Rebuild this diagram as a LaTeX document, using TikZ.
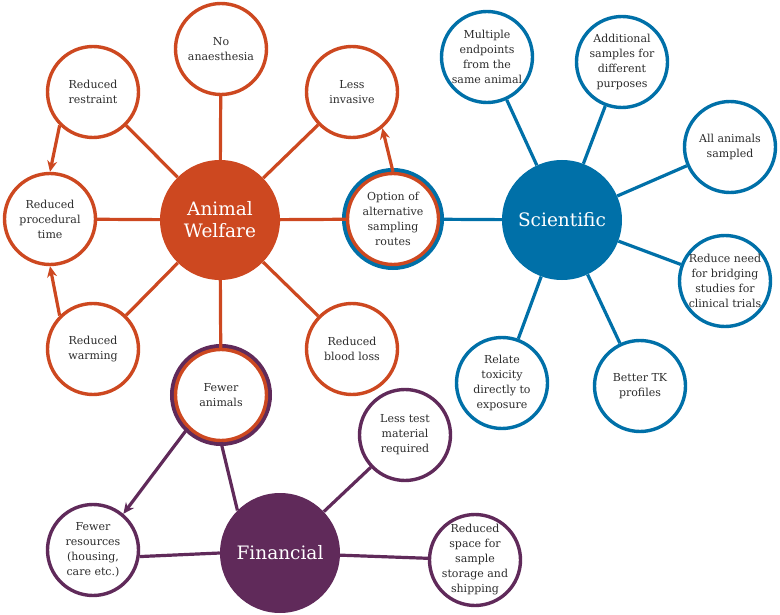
\documentclass[tikz,border=0pt]{standalone}
\usepackage{fontspec}
\setmainfont{DejaVu Serif}
\usetikzlibrary{arrows.meta}
\definecolor{welorange}{RGB}{205,72,32}
\definecolor{sciblue}{RGB}{0,112,168}
\definecolor{finpurple}{RGB}{96,42,90}
\definecolor{txtgrey}{RGB}{45,45,45}

\begin{document}
\begin{tikzpicture}[
  x=1pt, y=-1pt,
  hub/.style={circle, minimum size=120pt, inner sep=0pt, text=white, align=center, font=\fontsize{18.5}{22}\selectfont},
  leaf/.style={circle, draw=#1, line width=3.4pt, fill=white, minimum size=91pt, inner sep=0pt},
  ring/.style={preaction={draw=#1, line width=11pt}},
  txt/.style={align=center, text=txtgrey, font=\fontsize{11}{15}\selectfont},
  link/.style={line width=3.2pt},
  arr/.style={-{Stealth[length=11pt,width=10pt]}, line width=3.2pt}
]
  \useasboundingbox (0,0) rectangle (780,615);

  % hubs
  \node[hub, fill=welorange] (aw) at (220,220) {Animal\\Welfare};
  \node[hub, fill=sciblue] (sci) at (562,220) {Scientific};
  \node[hub, fill=finpurple] (fin) at (280,553) {Financial};

  % animal welfare
  \node[leaf=welorange, label={[txt]center:No\\anaesthesia}] (na) at (221,49) {};
  \node[leaf=welorange, label={[txt]center:Reduced\\restraint}] (rr) at (93,92) {};
  \node[leaf=welorange, label={[txt]center:Less\\invasive}] (li) at (352,92) {};
  \node[leaf=welorange, label={[txt]center:Reduced\\procedural\\time}] (pt) at (50,219) {};
  \node[leaf=welorange, label={[txt]center:Reduced\\warming}] (rw) at (93,349) {};
  \node[leaf=welorange, label={[txt]center:Reduced\\blood loss}] (rb) at (352,349) {};
  \node[leaf=welorange, ring=sciblue, label={[txt]center:Option of\\alternative\\sampling\\routes}] (opt) at (393,219) {};
  \node[leaf=welorange, ring=finpurple, label={[txt]center:Fewer\\animals}] (fa) at (221,395) {};

  % scientific
  \node[leaf=sciblue, label={[txt]center:Multiple\\endpoints\\from the\\same animal}] (me) at (487,57) {};
  \node[leaf=sciblue, label={[txt]center:Additional\\samples for\\different\\purposes}] (as) at (622,62) {};
  \node[leaf=sciblue, label={[txt]center:All animals\\sampled}] (aa) at (730,147) {};
  \node[leaf=sciblue, label={[txt]center:Reduce need\\for bridging\\studies for\\clinical trials}] (rn) at (725,281) {};
  \node[leaf=sciblue, label={[txt]center:Relate\\toxicity\\directly to\\exposure}] (rt) at (502,383) {};
  \node[leaf=sciblue, label={[txt]center:Better TK\\profiles}] (tk) at (640,386) {};

  % financial
  \node[leaf=finpurple, label={[txt]center:Less test\\material\\required}] (ltm) at (405,435) {};
  \node[leaf=finpurple, label={[txt]center:Fewer\\resources\\(housing,\\care etc.)}] (fr) at (93,550) {};
  \node[leaf=finpurple, label={[txt]center:Reduced\\space for\\sample\\storage and\\shipping}] (rs) at (475,560) {};

  \foreach \n in {na,rr,li,pt,rw,rb,opt,fa}
    \draw[link, welorange] (aw) -- (\n);
  \foreach \n in {opt,me,as,aa,rn,rt,tk}
    \draw[link, sciblue] (sci) -- (\n);
  \draw[link, finpurple] (fa.south) -- (fin.135);
  \draw[link, finpurple] (fin) -- (ltm);
  \draw[link, finpurple] (fin) -- (rs);
  \draw[link, finpurple] (fin.west) -- (fr.-8);

  \draw[arr, welorange] (rr.225) -- (pt.north);
  \draw[arr, welorange] (rw.135) -- (pt.south);
  \draw[arr, welorange] (opt.north) -- (li.-50);
  \draw[arr, finpurple] (fa.225) -- (fr.50);
\end{tikzpicture}
\end{document}
